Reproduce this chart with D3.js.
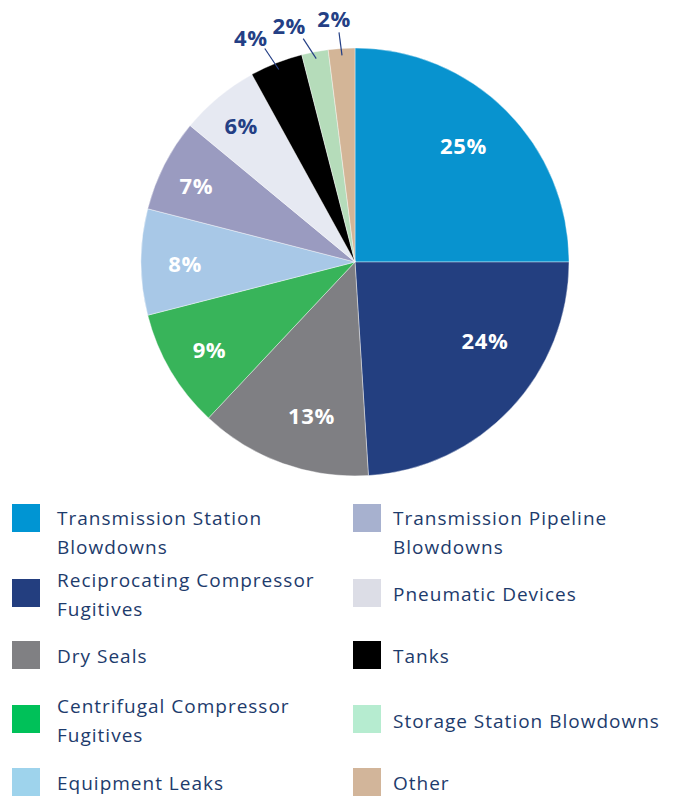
<!DOCTYPE html>
<html>
<head>
<meta charset="utf-8">
<script src="https://cdn.jsdelivr.net/npm/d3@7"></script>
<style>
  body { margin: 0; background: #fff; }
  svg { display: block; font-family: 'Open Sans', 'Lato', sans-serif; }
</style>
</head>
<body>
<svg id="chart" width="675" height="796"></svg>
<script>
// Emission sources, in pie order (clockwise from 12 o'clock)
const categories = [
    'Transmission Station Blowdowns',
    'Reciprocating Compressor Fugitives',
    'Dry Seals',
    'Centrifugal Compressor Fugitives',
    'Equipment Leaks',
    'Transmission Pipeline Blowdowns',
    'Pneumatic Devices',
    'Tanks',
    'Storage Station Blowdowns',
    'Other'
];
const shares = [25, 24, 13, 9, 8, 7, 6, 4, 2, 2];
const sliceColors = ['#0893cf', '#233f80', '#7f7f83', '#38b45a', '#a8c8e7',
                     '#9a9bc0', '#e6e9f2', '#000000', '#b5dcba', '#d3b597'];
const swatchColors = ['#0095d3', '#233e7f', '#808083', '#00c159', '#9ed3ec',
                      '#a7b1cf', '#dcdde6', '#000000', '#b6ecd0', '#d2b59a'];
// legend lines (wrapped as in the original)
const legendLines = [
    ['Transmission Station', 'Blowdowns'],
    ['Reciprocating Compressor', 'Fugitives'],
    ['Dry Seals'],
    ['Centrifugal Compressor', 'Fugitives'],
    ['Equipment Leaks'],
    ['Transmission Pipeline', 'Blowdowns'],
    ['Pneumatic Devices'],
    ['Tanks'],
    ['Storage Station Blowdowns'],
    ['Other']
];

const data = categories.map((c, i) => ({
    name: c, value: shares[i], color: sliceColors[i], swatch: swatchColors[i], lines: legendLines[i]
}));

const svg = d3.select('#chart');
const cx = 355, cy = 262, radius = 214;
const navy = '#243f85';

const pie = d3.pie().sort(null).value(d => d.value);
const arcs = pie(data);
const arc = d3.arc().innerRadius(0).outerRadius(radius);

const g = svg.append('g').attr('transform', `translate(${cx},${cy})`);

g.selectAll('path.slice')
    .data(arcs)
    .enter().append('path')
    .attr('class', 'slice')
    .attr('d', arc)
    .attr('fill', d => d.data.color)
    .attr('stroke', '#fff')
    .attr('stroke-width', 0.4);

const polar = (a, r) => [Math.sin(a) * r, -Math.cos(a) * r];
const mid = d => (d.startAngle + d.endAngle) / 2;
const deg = Math.PI / 180;

// inside labels: [angle nudge in degrees, radius]
const insideLayout = [[-2, 159], [-12, 152], [-4, 160], [-0.5, 170], [-0.7, 170], [-1.4, 176], [-0.4, 177]];
const inside = arcs.filter(d => d.data.value >= 6);
g.selectAll('text.in')
    .data(inside)
    .enter().append('text')
    .attr('class', 'in')
    .attr('transform', (d, i) => {
        const p = polar(mid(d) + insideLayout[i][0] * deg, insideLayout[i][1]);
        return `translate(${p[0]},${p[1]})`;
    })
    .attr('text-anchor', 'middle')
    .attr('dy', '0.36em')
    .attr('fill', d => d.data.value === 6 ? navy : '#fff')
    .style('font-size', '22px')
    .style('font-weight', 700)
    .style('letter-spacing', '0.6px')
    .text(d => d.data.value + '%');

// outside labels with leader lines for the small slices
const outside = arcs.filter(d => d.data.value < 6);
const leaderOffset = [[-14, -21], [-13, -20], [-3, -23]];
const textOffset = [[-14, -10], [-14, -13], [-5, -13]];
outside.forEach((d, i) => {
    const p1 = polar(mid(d), 207);
    const p2 = [p1[0] + leaderOffset[i][0], p1[1] + leaderOffset[i][1]];
    g.append('line')
        .attr('x1', p1[0]).attr('y1', p1[1])
        .attr('x2', p2[0]).attr('y2', p2[1])
        .attr('stroke', navy)
        .attr('stroke-width', 1.2);
    g.append('text')
        .attr('x', p2[0] + textOffset[i][0])
        .attr('y', p2[1] + textOffset[i][1])
        .attr('text-anchor', 'middle')
        .attr('dy', '0.36em')
        .attr('fill', navy)
        .style('font-size', '22px')
        .style('font-weight', 700)
        .style('letter-spacing', '0.6px')
        .text(d.data.value + '%');
});

// legend: two columns of five
const colX = [12, 353];
const textX = [57, 393];
const swatchTop = [504, 579, 641, 705, 768];
const firstLineY = [[518, 580, 656, 706, 783], [518, 594, 656, 721, 783]];
const lineHeight = 29.5;

const legend = svg.append('g').attr('class', 'legend');
data.forEach((d, i) => {
    const col = i < 5 ? 0 : 1;
    const row = i % 5;
    const item = legend.append('g');
    item.append('rect')
        .attr('x', colX[col])
        .attr('y', swatchTop[row])
        .attr('width', 28)
        .attr('height', 28)
        .attr('fill', d.swatch);
    const text = item.append('text')
        .attr('fill', '#1d3b6c')
        .style('font-size', '19px')
        .style('letter-spacing', '1px');
    d.lines.forEach((ln, k) => {
        text.append('tspan')
            .attr('x', textX[col])
            .attr('y', firstLineY[col][row] + k * lineHeight)
            .attr('dy', '0.35em')
            .text(ln);
    });
});
</script>
</body>
</html>
